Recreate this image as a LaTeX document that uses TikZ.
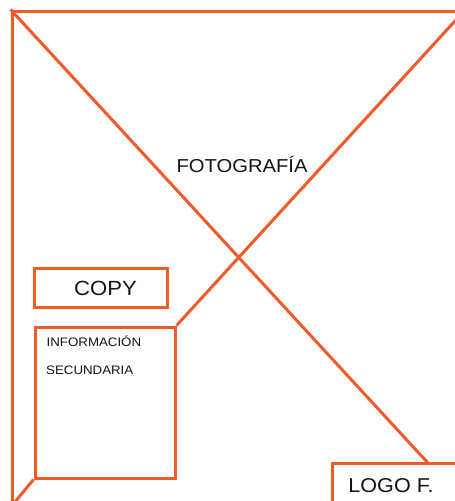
\documentclass[tikz,border=0pt]{standalone}
\usepackage{fontspec}
\setmainfont[FakeStretch=1.08]{Liberation Sans}
\definecolor{frameorange}{RGB}{241,90,41}
\definecolor{textgray}{RGB}{20,20,20}
\tikzset{
  wire/.style={draw=frameorange, line width=3pt},
  boxframe/.style={draw=frameorange, line width=3pt, rectangle, inner sep=0pt, fill=none},
  lbl/.style={text=textgray, inner sep=0pt},
}
\begin{document}
\begin{tikzpicture}[x=1pt,y=-1pt]
\useasboundingbox (0,0) rectangle (455,501);
\fill[white] (0,0) rectangle (455,501);
\clip (0,0) rectangle (455,501);
% outer frame
\node[boxframe, minimum width=452pt, minimum height=495pt] (frame) at (238,258.5) {};
% boxes
\node[boxframe, minimum width=133pt, minimum height=39pt] (copy) at (100.5,287.5) {};
\node[boxframe, minimum width=140pt, minimum height=151pt] (info) at (105,402.5) {};
\node[boxframe, minimum width=148pt, minimum height=60pt] (logo) at (406,493) {};
% diagonal ends
\coordinate (d1end) at (428,463);
\coordinate (d2bl) at (frame.south west);
% diagonals
\draw[wire] (frame.north west) -- (d1end);
\draw[wire] (frame.north east) -- (info.north east);
\draw[wire] (info.south west) -- (d2bl);
% labels
\node[lbl, anchor=base, font=\fontsize{18.7}{20}\selectfont] (foto) at (242,172) {FOTOGRAFÍA};
\node[lbl, anchor=base, font=\fontsize{20.5}{22}\selectfont] (copyt) at (105.5,295) {COPY};
\node[lbl, anchor=base west, font=\fontsize{12.3}{14}\selectfont] (inf1) at (46.5,346) {INFORMACIÓN};
\node[lbl, anchor=base west, font=\fontsize{12.3}{14}\selectfont] (inf2) at (46,374) {SECUNDARIA};
\node[lbl, anchor=base, font=\fontsize{20}{22}\selectfont] (logot) at (391,492) {LOGO F.};
\end{tikzpicture}
\end{document}
